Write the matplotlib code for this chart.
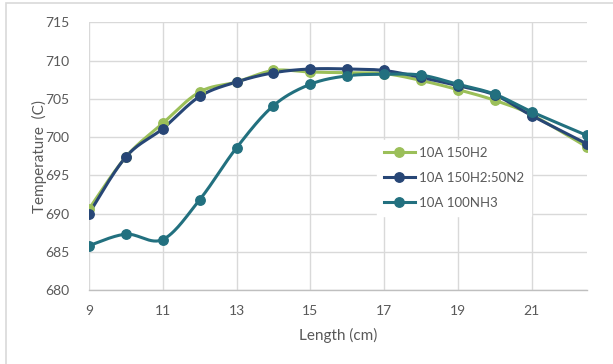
import numpy as np
import matplotlib
matplotlib.use("Agg")
import matplotlib.pyplot as plt
from matplotlib.patches import Rectangle
from matplotlib.lines import Line2D

plt.rcParams['font.family'] = ['Lato', 'DejaVu Sans']

length_cm = [9, 10, 11, 12, 13, 14, 15, 16, 17, 18, 19, 20, 21, 22.5]
temp_h2 = [690.6, 697.4, 701.8, 705.9, 707.2, 708.7, 708.5, 708.4, 708.3, 707.4, 706.2, 704.8, 702.9, 698.7]
temp_h2_n2 = [690.0, 697.4, 701.1, 705.3, 707.2, 708.4, 708.9, 708.9, 708.7, 707.8, 706.7, 705.5, 702.8, 699.1]
temp_nh3 = [685.8, 687.3, 686.6, 691.8, 698.6, 704.1, 706.9, 708.0, 708.2, 708.1, 706.9, 705.6, 703.3, 700.2]

series_names = ['10A 150H2', '10A 150H2:50N2', '10A 100NH3']
series_colors = ['#9BBF59', '#274676', '#22707F']
x_ticks = [9, 11, 13, 15, 17, 19, 21]
y_ticks = [680, 685, 690, 695, 700, 705, 710, 715]


def smooth(xs, ys, n=30):
    """Catmull-Rom style smoothing through every data point."""
    p = np.column_stack([xs, ys]).astype(float)
    p = np.vstack([p[0], p, p[-1]])
    out = []
    t = np.linspace(0, 1, n)[:, None]
    for i in range(1, len(p) - 2):
        p0, p1, p2, p3 = p[i - 1], p[i], p[i + 1], p[i + 2]
        c1 = p1 + (p2 - p0) / 6.0
        c2 = p2 - (p3 - p1) / 6.0
        seg = ((1 - t) ** 3) * p1 + 3 * ((1 - t) ** 2) * t * c1 + 3 * (1 - t) * t ** 2 * c2 + t ** 3 * p2
        out.append(seg if i == 1 else seg[1:])
    out = np.vstack(out)
    return out[:, 0], out[:, 1]


W, H = 613, 364
fig = plt.figure(figsize=(W / 100, H / 100), dpi=100)
fig.patch.set_facecolor('white')

# chart-area border
fig.add_artist(Rectangle((6 / W, -0.1), 1.2, 1.1 - 3 / H, transform=fig.transFigure,
                         facecolor='none', edgecolor='#D9D9D9', linewidth=1.2))

ax = fig.add_axes([89 / W, 1 - 290 / H, (587 - 89) / W, (290 - 22.3) / H])
ax.set_xlim(9, 22.5)
ax.set_ylim(680, 715)
ax.set_xticks(x_ticks)
ax.set_yticks(y_ticks)
ax.grid(True, color='#D9D9D9', linewidth=1.0)
ax.set_axisbelow(True)
for s in ['top', 'right', 'left']:
    ax.spines[s].set_visible(False)
ax.spines['bottom'].set_color('#BFBFBF')
ax.spines['bottom'].set_linewidth(1.0)
ax.tick_params(length=0, colors='#595959', labelsize=10, pad=11)
ax.tick_params(axis='y', pad=14)

for vals, name, col in zip([temp_h2, temp_h2_n2, temp_nh3], series_names, series_colors):
    sx, sy = smooth(length_cm, vals)
    ax.plot(sx, sy, color=col, linewidth=2.2, solid_capstyle='round', zorder=3)
    ax.plot(length_cm, vals, linestyle='none', marker='o', markersize=6.8,
            color=col, zorder=4)

ax.set_xlabel('Length (cm)', color='#595959', fontsize=11)
ax.set_ylabel('Temperature  (C)', color='#595959', fontsize=11)
ax.xaxis.set_label_coords(0.5, -(328 - 290) / 267.7)
ax.yaxis.set_label_coords(-(89 - 47) / 498, 0.5)

handles = [Line2D([0], [0], color=c, linewidth=2.2, marker='o', markersize=6.8) for c in series_colors]
leg = ax.legend(handles, series_names, loc='upper left', bbox_to_anchor=((377 - 89) / (587 - 89), 1 - (140 - 22.3) / (290 - 22.3)),
                frameon=True, fancybox=False, edgecolor='white', facecolor='white', framealpha=1,
                fontsize=9.5, labelcolor='#595959', handlelength=2.4, handletextpad=0.3,
                labelspacing=1.0, borderpad=0.5, borderaxespad=0)

fig.savefig('out.png', dpi=100, facecolor='white')
